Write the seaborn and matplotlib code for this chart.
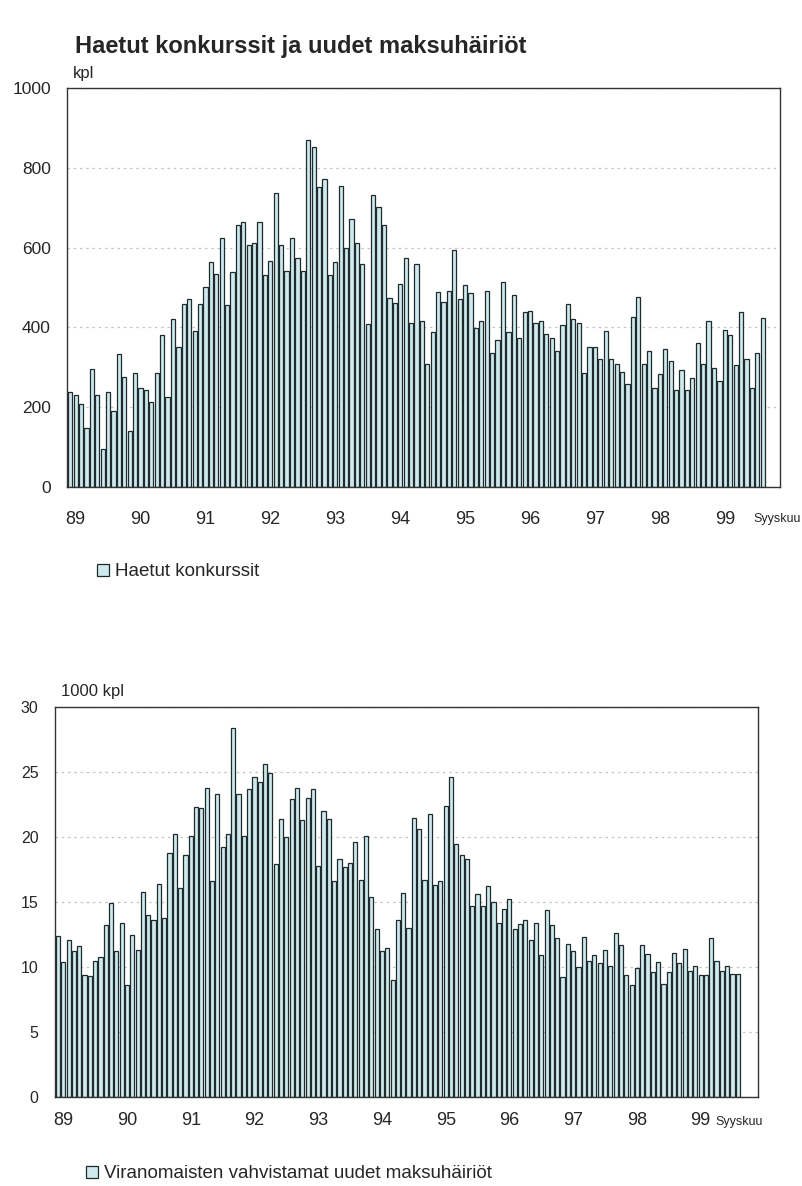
import numpy as np
import pandas as pd
import matplotlib
matplotlib.use("Agg")
import matplotlib.pyplot as plt
from matplotlib.patches import Patch
import seaborn as sns

# Kuukausittaiset arvot 1/1989 - 9/1999 (luettu kuvasta)
konkurssit = [
    237, 230, 207, 149, 295, 230, 95, 239, 191, 334, 276, 141,     # 89
    286, 249, 244, 214, 285, 382, 226, 421, 350, 458, 471, 392,    # 90
    459, 502, 563, 533, 624, 455, 538, 656, 665, 607, 612, 664,    # 91
    531, 566, 737, 607, 541, 624, 573, 542, 870, 851, 751, 773,    # 92
    531, 563, 755, 599, 671, 612, 560, 408, 732, 701, 657, 473,    # 93
    462, 509, 575, 411, 558, 417, 309, 388, 488, 463, 491, 595,    # 94
    471, 506, 487, 398, 417, 490, 336, 369, 515, 388, 481, 373,    # 95
    438, 441, 412, 415, 384, 373, 340, 405, 459, 421, 411, 285,    # 96
    350, 350, 320, 392, 320, 309, 289, 257, 425, 476, 309, 340,    # 97
    247, 284, 346, 317, 242, 292, 242, 274, 361, 309, 417, 297,    # 98
    266, 393, 382, 305, 438, 320, 249, 336, 423,                   # 99
]

maksuhairiot = [
    12.4, 10.4, 12.1, 11.2, 11.6, 9.4, 9.3, 10.5, 10.8, 13.2, 14.9, 11.2,
    13.4, 8.6, 12.5, 11.3, 15.8, 14.0, 13.6, 16.4, 13.8, 18.8, 20.2, 16.1,
    18.6, 20.1, 22.3, 22.2, 23.8, 16.6, 23.3, 19.2, 20.2, 28.4, 23.3, 20.1,
    23.7, 24.6, 24.2, 25.6, 24.9, 17.9, 21.4, 20.0, 22.9, 23.8, 21.3, 23.0,
    23.7, 17.8, 22.0, 21.4, 16.6, 18.3, 17.7, 18.0, 19.6, 16.7, 20.1, 15.4,
    12.9, 11.2, 11.5, 9.0, 13.6, 15.7, 13.0, 21.5, 20.6, 16.7, 21.8, 16.3,
    16.6, 22.4, 24.6, 19.5, 18.6, 18.3, 14.7, 15.6, 14.7, 16.2, 15.0, 13.4,
    14.5, 15.2, 12.9, 13.3, 13.6, 12.1, 13.4, 10.9, 14.4, 13.2, 12.2, 9.2,
    11.8, 11.2, 10.0, 12.3, 10.5, 10.9, 10.3, 11.3, 10.1, 12.6, 11.7, 9.4,
    8.6, 9.9, 11.7, 11.0, 9.6, 10.4, 8.7, 9.6, 11.1, 10.3, 11.4, 9.7,
    10.1, 9.4, 9.4, 12.2, 10.5, 9.7, 10.1, 9.5, 9.5,
]

years = list(range(1989, 2000))
year_labels = ["89", "90", "91", "92", "93", "94", "95", "96", "97", "98", "99"]
months = [f"{y}-{m:02d}" for y in years for m in range(1, 13)][:len(konkurssit)]

df = pd.DataFrame({"kk": months, "konkurssit": konkurssit, "maksuhairiot": maksuhairiot})

sns.set_style("white")
plt.rcParams["font.family"] = ["Liberation Sans", "DejaVu Sans"]

BAR_FILL = "#cfe9ee"
BAR_EDGE = "#1f2a2c"

fig = plt.figure(figsize=(8.03, 11.86), dpi=100)

fig.text(75 / 803, 1 - 46 / 1186, "Haetut konkurssit ja uudet maksuhäiriöt",
         fontsize=17, fontweight="bold", ha="left", va="center")


def draw_panel(ax, col, ymax, ystep, unit, unit_dy, xlim_right, xpad, ysize,
               syys_pos, legend_text, legend_pos):
    sns.barplot(data=df, x="kk", y=col, order=months, ax=ax, color=BAR_FILL,
                saturation=1, edgecolor=BAR_EDGE, linewidth=0.9, width=0.78)
    ax.set_xlim(-0.5, xlim_right)
    ax.set_ylim(0, ymax)
    ax.set_yticks(np.arange(0, ymax + ystep / 2, ystep))
    ax.yaxis.grid(True, linestyle=(0, (2, 3)), color="#c4c4c4", linewidth=0.9)
    ax.set_axisbelow(True)
    ax.set_xticks([12 * i + 1 for i in range(len(year_labels))])
    ax.set_xticklabels(year_labels)
    ax.tick_params(axis="x", length=0, pad=xpad, labelsize=13)
    ax.tick_params(axis="y", length=0, pad=12, labelsize=ysize)
    ax.set_xlabel("")
    ax.set_ylabel("")
    for s in ax.spines.values():
        s.set_visible(True)
        s.set_color("#333333")
        s.set_linewidth(1.0)
    ax.text(0.008, 1 + unit_dy, unit, transform=ax.transAxes, fontsize=12,
            ha="left", va="baseline")
    ax.text(syys_pos[0], syys_pos[1], "Syyskuu", transform=ax.transAxes,
            fontsize=9, ha="left", va="center")
    handle = Patch(facecolor=BAR_FILL, edgecolor=BAR_EDGE, linewidth=0.9)
    fig.legend([handle], [legend_text], loc="center left",
               bbox_to_anchor=legend_pos, frameon=False, fontsize=13.5,
               handlelength=0.65, handleheight=0.65, handletextpad=0.3,
               borderpad=0, borderaxespad=0)


ax1 = fig.add_axes([67.5 / 803, 1 - 487 / 1186, 712.5 / 803, 399 / 1186])
draw_panel(ax1, "konkurssit", 1000, 200, "kpl", 10 / 399, 131.2, 17, 12.5,
           (0.963, -32 / 399), "Haetut konkurssit", (97 / 803, 1 - 572 / 1186))

ax2 = fig.add_axes([55.3 / 803, 1 - 1097 / 1186, 702.7 / 803, 390 / 1186])
draw_panel(ax2, "maksuhairiot", 30, 5, "1000 kpl", 11 / 390, 131.8, 11, 11.5,
           (0.94, -25 / 390), "Viranomaisten vahvistamat uudet maksuhäiriöt",
           (86 / 803, 1 - 1174 / 1186))

fig.savefig("out.png", dpi=100)
